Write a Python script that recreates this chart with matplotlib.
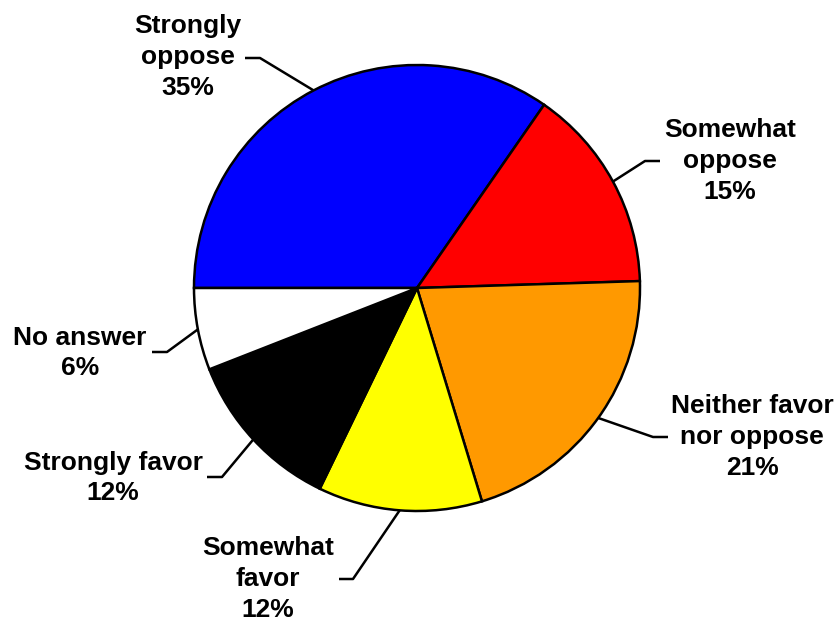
import numpy as np
import matplotlib
matplotlib.use('Agg')
import matplotlib.pyplot as plt

plt.rcParams['font.family'] = ['Liberation Sans', 'DejaVu Sans']

labels = ['Strongly\noppose', 'Somewhat\noppose', 'Neither favor\nnor oppose',
          'Somewhat\nfavor', 'Strongly favor', 'No answer']
values = [35, 15, 21, 12, 12, 6]
colors = ['#0000FF', '#FF0000', '#FF9900', '#FFFF00', '#000000', '#FFFFFF']

W, H = 838, 623
# label layout in pixel coords (y down): text centre, elbow, end of horizontal tick
text_pos = [(188, 57), (730, 161), (752, 437), (268, 579), (113, 478), (80, 353)]
elbow = [(260, 58), (645, 161), (653, 437), (353, 579), (222, 477), (167, 352)]
tick_end = [(245, 58), (660, 161), (668, 437), (339, 579), (207, 477), (152, 352)]

fig = plt.figure(figsize=(W / 100, H / 100), dpi=100)
ax = fig.add_axes([0, 0, 1, 1])

cx, cy, r = 417, H - 288, 223
wedges, _ = ax.pie(values, colors=colors, startangle=180, counterclock=False,
                   center=(cx, cy), radius=r, frame=True,
                   wedgeprops=dict(edgecolor='black', linewidth=1.8))
ax.set_xlim(0, W)
ax.set_ylim(0, H)
ax.axis('off')

for w, lab, v, tp, el, te in zip(wedges, labels, values, text_pos, elbow, tick_end):
    mid = np.deg2rad((w.theta1 + w.theta2) / 2)
    px, py = cx + r * np.cos(mid), cy + r * np.sin(mid)
    ax.plot([px, el[0], te[0]], [py, H - el[1], H - te[1]], color='black', lw=1.8,
            solid_capstyle='butt')
    ax.text(tp[0], H - tp[1], f'{lab}\n{v}%', ha='center', va='center',
            fontsize=19, fontweight='bold', linespacing=1.35)

fig.savefig('out.png', dpi=100)
